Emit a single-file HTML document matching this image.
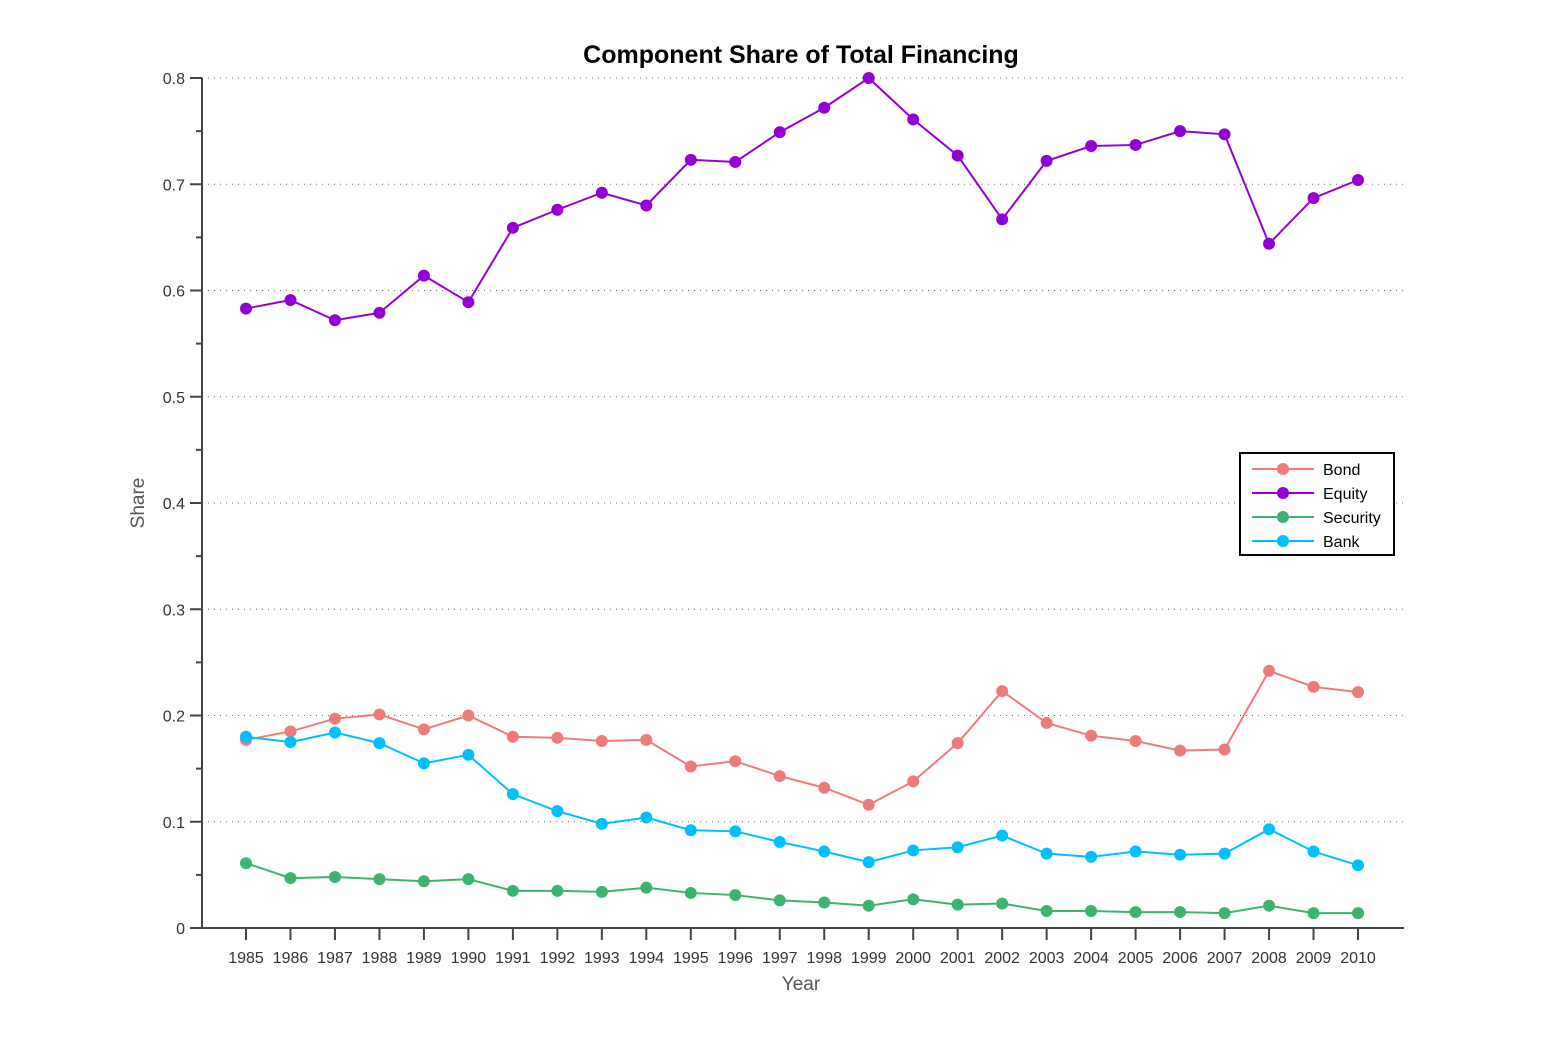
<!DOCTYPE html>
<html><head><meta charset="utf-8"><style>
body{margin:0;background:#fff;}
svg text{font-family:"Liberation Sans",sans-serif;}
</style></head><body>
<svg id="chart" width="1551" height="1044" xmlns="http://www.w3.org/2000/svg">
<rect width="1551" height="1044" fill="#fff"/>
<text x="801" y="63" text-anchor="middle" font-size="25" font-weight="bold" fill="#000">Component Share of Total Financing</text>
<g id="grid"></g><g id="axes"></g><g id="series"></g>
<text x="801" y="990" text-anchor="middle" font-size="19" fill="#555">Year</text>
<text transform="translate(144,503) rotate(-90)" text-anchor="middle" font-size="19" fill="#555">Share</text>
<g id="legend"></g>
</svg>
<script>
const years=[1985,1986,1987,1988,1989,1990,1991,1992,1993,1994,1995,1996,1997,1998,1999,2000,2001,2002,2003,2004,2005,2006,2007,2008,2009,2010];
const bond=[0.177,0.185,0.197,0.201,0.187,0.200,0.180,0.179,0.176,0.177,0.152,0.157,0.143,0.132,0.116,0.138,0.174,0.223,0.193,0.181,0.176,0.167,0.168,0.242,0.227,0.222];
const equity=[0.583,0.591,0.572,0.579,0.614,0.589,0.659,0.676,0.692,0.680,0.723,0.721,0.749,0.772,0.800,0.761,0.727,0.667,0.722,0.736,0.737,0.750,0.747,0.644,0.687,0.704];
const security=[0.061,0.047,0.048,0.046,0.044,0.046,0.035,0.035,0.034,0.038,0.033,0.031,0.026,0.024,0.021,0.027,0.022,0.023,0.016,0.016,0.015,0.015,0.014,0.021,0.014,0.014];
const bank=[0.180,0.175,0.184,0.174,0.155,0.163,0.126,0.110,0.098,0.104,0.092,0.091,0.081,0.072,0.062,0.073,0.076,0.087,0.070,0.067,0.072,0.069,0.070,0.093,0.072,0.059];
const yTicks=[0,0.1,0.2,0.3,0.4,0.5,0.6,0.7,0.8];
const seriesNames=["Bond","Equity","Security","Bank"];
const seriesColors=["#ee7b7b","#9400d3","#3cb371","#00bfff"];
const NS="http://www.w3.org/2000/svg";
const L=202,R=1404,T=78,B=928;
const xs=i=>246+i*(1358-246)/(years.length-1);
const ys=v=>B-(v/0.8)*(B-T);
function mk(tag,attrs,parent){const e=document.createElementNS(NS,tag);for(const k in attrs)e.setAttribute(k,attrs[k]);parent.appendChild(e);return e;}
const grid=document.getElementById('grid'),axes=document.getElementById('axes'),ser=document.getElementById('series'),leg=document.getElementById('legend');
yTicks.forEach(t=>{
  if(t>0){const g=mk('line',{x1:L,x2:R,y1:ys(t),y2:ys(t),stroke:'#666','stroke-width':1,'stroke-dasharray':'1 5'},grid);
  
  }
  const tk=mk('line',{x1:L-12,x2:L,y1:ys(t),y2:ys(t),stroke:'#444','stroke-width':2},axes);
  
  
  const lb=mk('text',{x:L-17,y:ys(t)+6,'text-anchor':'end','font-size':16,fill:'#333'},axes);
  lb.textContent=t===0?'0':t.toFixed(1);
  
  
  if(t<0.8){const m=mk('line',{x1:L-6,x2:L,y1:ys(t+0.05),y2:ys(t+0.05),stroke:'#444','stroke-width':2},axes);
  
  }
});
const ya=mk('line',{x1:L,x2:L,y1:T,y2:B+1,stroke:'#444','stroke-width':2},axes);


const xa=mk('line',{x1:L-1,x2:R,y1:B,y2:B,stroke:'#444','stroke-width':2},axes);


years.forEach((y,i)=>{
  const tk=mk('line',{x1:xs(i),x2:xs(i),y1:B,y2:B+12,stroke:'#444','stroke-width':2},axes);
  
  
  const lb=mk('text',{x:xs(i),y:B+35,'text-anchor':'middle','font-size':16,fill:'#333'},axes);
  lb.textContent=y;
  
  
});
[bond,equity,security,bank].forEach((d,si)=>{
  const c=seriesColors[si];
  const pl=mk('polyline',{points:d.map((v,i)=>xs(i)+','+ys(v)).join(' '),fill:'none',stroke:c,'stroke-width':2},ser);
  
  
  d.forEach((v,i)=>{
    const p=mk('circle',{cx:xs(i),cy:ys(v),r:6,fill:c},ser);
    
    
  });
});
mk('rect',{x:1240,y:453,width:154,height:102,fill:'#fff',stroke:'#000','stroke-width':2},leg);
seriesNames.forEach((n,i)=>{
  const y=469+i*24;
  const ln=mk('line',{x1:1252,x2:1314,y1:y,y2:y,stroke:seriesColors[i],'stroke-width':2},leg);
  
  
  const m=mk('circle',{cx:1283,cy:y,r:6,fill:seriesColors[i]},leg);
  
  
  const t=mk('text',{x:1323,y:y+6,'font-size':16,fill:'#000'},leg);
  t.textContent=n;
  
  
});
</script>
</body></html>
